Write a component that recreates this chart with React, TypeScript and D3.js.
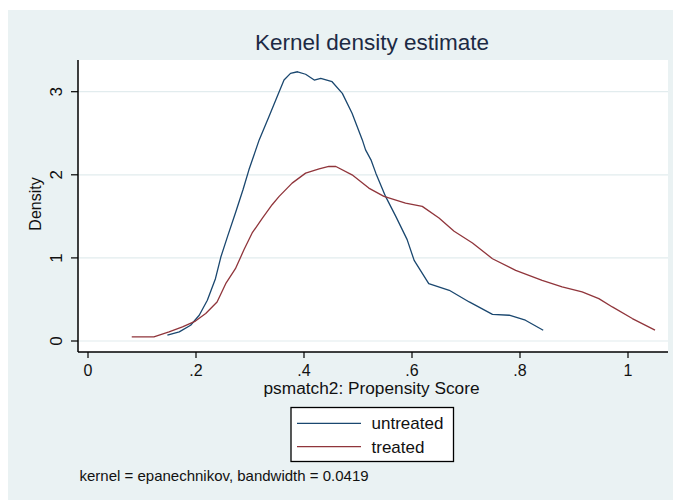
import React from "react";
import * as d3 from "d3";

const untreatedX = [0.147, 0.169, 0.19, 0.206, 0.221, 0.236, 0.246, 0.258, 0.273, 0.287, 0.298, 0.317, 0.335, 0.354, 0.363, 0.375, 0.388, 0.403, 0.419, 0.431, 0.452, 0.471, 0.489, 0.508, 0.514, 0.524, 0.533, 0.551, 0.570, 0.591, 0.604, 0.631, 0.669, 0.706, 0.749, 0.780, 0.810, 0.843];
const untreatedY = [0.07, 0.11, 0.19, 0.31, 0.49, 0.75, 1.01, 1.25, 1.54, 1.82, 2.06, 2.42, 2.70, 3.00, 3.14, 3.22, 3.24, 3.21, 3.14, 3.16, 3.12, 2.98, 2.74, 2.42, 2.30, 2.18, 2.02, 1.74, 1.50, 1.22, 0.97, 0.69, 0.61, 0.47, 0.32, 0.31, 0.25, 0.13];

const treatedX = [0.081, 0.122, 0.150, 0.175, 0.199, 0.218, 0.239, 0.255, 0.273, 0.289, 0.304, 0.323, 0.341, 0.354, 0.378, 0.403, 0.428, 0.446, 0.459, 0.489, 0.520, 0.548, 0.588, 0.619, 0.650, 0.678, 0.712, 0.749, 0.792, 0.841, 0.878, 0.915, 0.946, 0.971, 1.008, 1.050];
const treatedY = [0.05, 0.05, 0.11, 0.17, 0.24, 0.33, 0.47, 0.69, 0.87, 1.10, 1.30, 1.48, 1.64, 1.74, 1.90, 2.02, 2.07, 2.10, 2.10, 2.00, 1.84, 1.74, 1.66, 1.62, 1.48, 1.32, 1.18, 0.99, 0.85, 0.73, 0.65, 0.59, 0.51, 0.41, 0.27, 0.13];

const xTicks = [0, 0.2, 0.4, 0.6, 0.8, 1];
const xTickLabels = ["0", ".2", ".4", ".6", ".8", "1"];
const yTicks = [0, 1, 2, 3];
const yTickLabels = ["0", "1", "2", "3"];
const seriesNames = ["untreated", "treated"];
const seriesColors = ["#1a476f", "#90353b"];

const FONT = "'Liberation Sans', Arial, sans-serif";

export default function App() {
  const x = d3.scaleLinear().domain([0, 1]).range([88, 628]);
  const y = d3.scaleLinear().domain([0, 3]).range([341, 91.7]);
  const plot = { left: 78, right: 668, top: 60, bottom: 352 };

  const line = d3
    .line<[number, number]>()
    .x((d) => x(d[0]))
    .y((d) => y(d[1]))
    .curve(d3.curveLinear);

  const series = [
    untreatedX.map((v, i) => [v, untreatedY[i]] as [number, number]),
    treatedX.map((v, i) => [v, treatedY[i]] as [number, number]),
  ];

  return (
    <svg
      width={673}
      height={500}
      style={{ position: "absolute", left: 0, top: 0, display: "block" }}
      fontFamily={FONT}
    >
      <rect x={0} y={0} width={673} height={500} fill="#ffffff" />
      <rect x={8} y={10} width={665} height={490} fill="#eaf2f3" />
      <text x={372} y={50} textAnchor="middle" fontSize={22.5} fill="#1c2a44">
        Kernel density estimate
      </text>
      <rect
        x={plot.left}
        y={plot.top}
        width={plot.right - plot.left}
        height={plot.bottom - plot.top}
        fill="#ffffff"
      />
      {yTicks.map((t) => (
        <line
          key={"g" + t}
          x1={plot.left}
          x2={plot.right}
          y1={y(t)}
          y2={y(t)}
          stroke="#e2ecee"
          strokeWidth={1.2}
        />
      ))}
      {series.map((s, i) => (
        <path
          key={i}
          d={line(s) || ""}
          fill="none"
          stroke={seriesColors[i]}
          strokeWidth={1.3}
          strokeLinejoin="round"
        />
      ))}
      <line x1={plot.left} x2={plot.left} y1={plot.top} y2={plot.bottom} stroke="#000" strokeWidth={1.5} />
      <line x1={plot.left} x2={plot.right} y1={plot.bottom} y2={plot.bottom} stroke="#000" strokeWidth={1.5} />
      {yTicks.map((t, i) => (
        <g key={"y" + t}>
          <line x1={plot.left - 7} x2={plot.left} y1={y(t)} y2={y(t)} stroke="#000" strokeWidth={1.2} />
          <text
            transform={`translate(62,${y(t)}) rotate(-90)`}
            textAnchor="middle"
            fontSize={17}
            fill="#111"
          >
            {yTickLabels[i]}
          </text>
        </g>
      ))}
      {xTicks.map((t, i) => (
        <g key={"x" + t}>
          <line x1={x(t)} x2={x(t)} y1={plot.bottom} y2={plot.bottom + 6} stroke="#000" strokeWidth={1.2} />
          <text x={x(t)} y={376} textAnchor="middle" fontSize={16} fill="#111">
            {xTickLabels[i]}
          </text>
        </g>
      ))}
      <text
        transform="translate(41,204) rotate(-90)"
        textAnchor="middle"
        fontSize={16}
        fill="#111"
      >
        Density
      </text>
      <text
        x={263.5}
        y={394}
        fontSize={16}
        fill="#111"
        textLength={216}
        lengthAdjust="spacingAndGlyphs"
      >
        psmatch2: Propensity Score
      </text>
      <rect x={291} y={407.5} width={162.5} height={54} fill="#ffffff" stroke="#000" strokeWidth={1.3} />
      {seriesNames.map((n, i) => (
        <g key={n}>
          <line
            x1={297}
            x2={361}
            y1={423.3 + i * 23.4}
            y2={423.3 + i * 23.4}
            stroke={seriesColors[i]}
            strokeWidth={1.3}
          />
          <text x={371.5} y={429.3 + i * 23.4} fontSize={17} fill="#111">
            {n}
          </text>
        </g>
      ))}
      <text x={79.5} y={481} fontSize={15} fill="#111">
        kernel = epanechnikov, bandwidth = 0.0419
      </text>
    </svg>
  );
}
